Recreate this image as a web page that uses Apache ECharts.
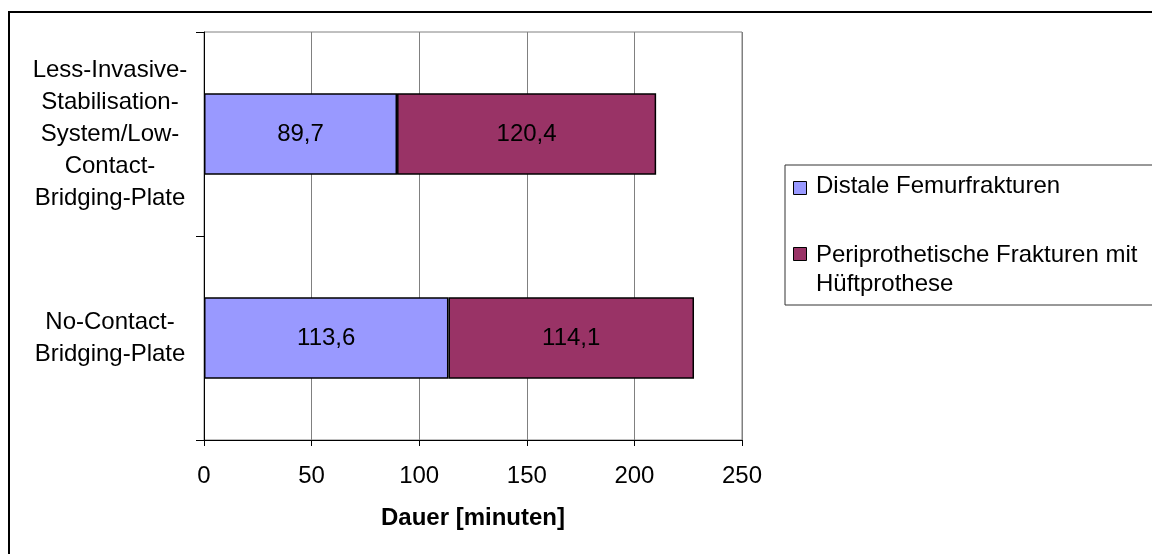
<!DOCTYPE html>
<html>
<head>
<meta charset="utf-8">
<script src="https://cdn.jsdelivr.net/npm/echarts@6/dist/echarts.min.js"></script>
<style>
html,body{margin:0;padding:0;background:#fff;}
#c{width:1152px;height:554px;}
</style>
</head>
<body>
<div id="c"></div>
<script>
// ---- data ----
var categories = [
  "Less-Invasive-\nStabilisation-\nSystem/Low-\nContact-\nBridging-Plate",
  "No-Contact-\nBridging-Plate"
];
var seriesNames = [
  "Distale Femurfrakturen",
  "Periprothetische Frakturen mit\nHüftprothese"
];
var distale = [89.7, 113.6];
var periprothetisch = [120.4, 114.1];
var axisTitle = "Dauer [minuten]";
var seriesColors = ["#9999FF", "#993366"];

var FONT = "'Liberation Sans', Arial, sans-serif";

function fmt(p) {
  return String(p.value.toFixed(1)).replace('.', ',');
}

var chart = echarts.init(document.getElementById('c'), null, {renderer: 'canvas'});

var legendGraphics = [
  {type: 'rect', shape: {x: 785, y: 165, width: 420, height: 140}, style: {fill: 'none', stroke: '#333', lineWidth: 1}, z: 10}
];
var legendY = [[181, 187], [247, 256]];
seriesNames.forEach(function (n, i) {
  legendGraphics.push({type: 'rect', shape: {x: 793.5, y: legendY[i][0] + 0.5, width: 13, height: 13},
    style: {fill: seriesColors[i], stroke: '#000', lineWidth: 1}, z: 10});
  legendGraphics.push({type: 'text', x: 816, y: legendY[i][1] - 15,
    style: {text: n, fill: '#000', font: '24px ' + FONT, lineHeight: 29, verticalAlign: 'top'}, z: 10});
});

var option = {
  animation: false,
  backgroundColor: '#fff',
  textStyle: {fontFamily: FONT},
  grid: {left: 204, top: 32, right: 410, bottom: 114, show: true, borderColor: '#808080', borderWidth: 1, containLabel: false},
  xAxis: {
    type: 'value', min: 0, max: 250, interval: 50,
    axisLine: {show: true, lineStyle: {color: '#000', width: 1}},
    axisTick: {show: true, length: 6, lineStyle: {color: '#000'}},
    splitLine: {show: true, lineStyle: {color: '#808080', width: 1}},
    axisLabel: {color: '#000', fontSize: 24, fontFamily: FONT, margin: 24},
    name: axisTitle, nameLocation: 'middle', nameGap: 66,
    nameTextStyle: {color: '#000', fontSize: 24, fontWeight: 'bold', fontFamily: FONT}
  },
  yAxis: {
    type: 'category', data: categories, inverse: true,
    axisLine: {show: true, lineStyle: {color: '#000', width: 1}},
    axisTick: {show: true, length: 8, lineStyle: {color: '#000'}},
    splitLine: {show: false},
    axisLabel: {color: '#000', fontSize: 24, fontFamily: FONT, margin: 94, align: 'center', lineHeight: 32}
  },
  series: [
    {
      name: seriesNames[0], type: 'bar', stack: 's', data: distale, barCategoryGap: '60%',
      itemStyle: {color: seriesColors[0], borderColor: '#000', borderWidth: 1.5},
      label: {show: true, position: 'inside', color: '#000', fontSize: 24, fontFamily: FONT, formatter: fmt}
    },
    {
      name: seriesNames[1], type: 'bar', stack: 's', data: periprothetisch, barCategoryGap: '60%',
      itemStyle: {color: seriesColors[1], borderColor: '#000', borderWidth: 1.5},
      label: {show: true, position: 'inside', color: '#000', fontSize: 24, fontFamily: FONT, formatter: fmt}
    }
  ],
  graphic: [
    {type: 'rect', shape: {x: 9, y: 12, width: 1300, height: 700}, style: {fill: 'none', stroke: '#000', lineWidth: 2}, z: 10}
  ].concat(legendGraphics)
};
chart.setOption(option);
</script>
</body>
</html>
